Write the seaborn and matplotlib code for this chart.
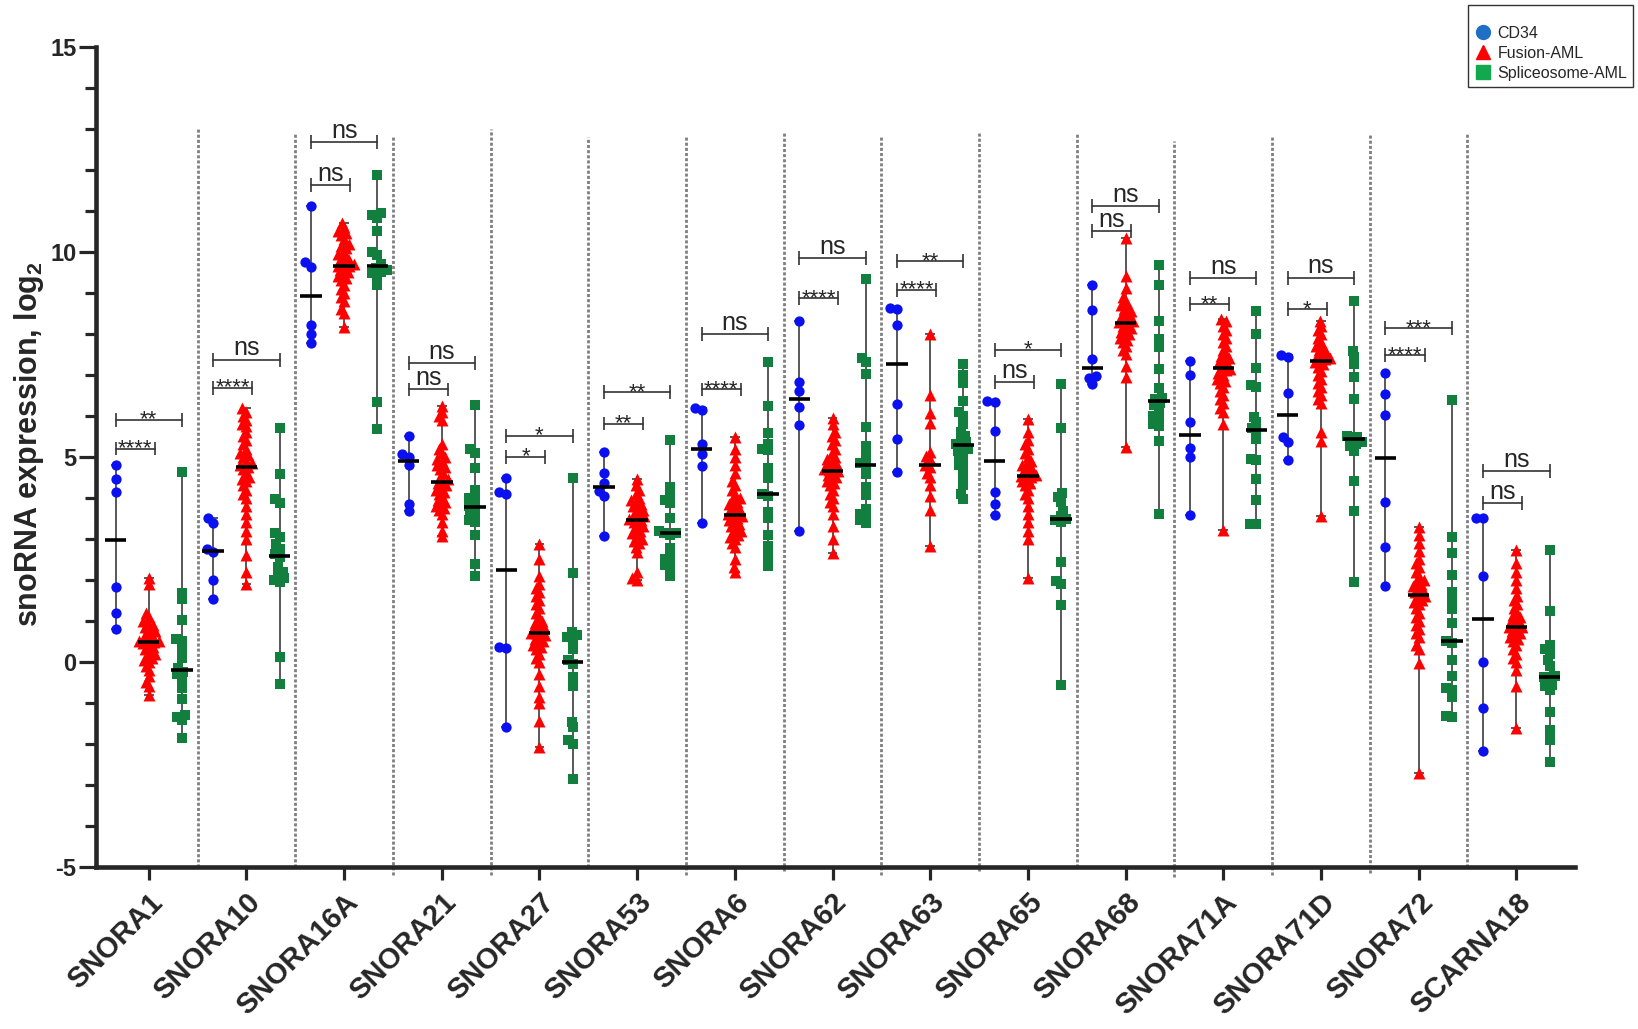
import numpy as np
import pandas as pd
import seaborn as sns
import matplotlib.pyplot as plt
from matplotlib.lines import Line2D
from matplotlib.ticker import MultipleLocator

genes = ['SNORA1', 'SNORA10', 'SNORA16A', 'SNORA21', 'SNORA27', 'SNORA53', 'SNORA6', 'SNORA62',
         'SNORA63', 'SNORA65', 'SNORA68', 'SNORA71A', 'SNORA71D', 'SNORA72', 'SCARNA18']
groups = ['CD34', 'Fusion-AML', 'Spliceosome-AML']

# log2 expression, one list per gene (same order as genes)
cd34 = [
    [4.8, 4.45, 4.13, 1.83, 1.2, 0.81],
    [3.5, 3.39, 2.75, 2.67, 1.99, 1.53],
    [11.11, 9.74, 9.63, 8.21, 7.99, 7.77],
    [5.51, 5.07, 5.0, 4.81, 3.85, 3.68],
    [4.49, 4.13, 4.1, 0.37, 0.34, -1.59],
    [5.12, 4.61, 4.37, 4.17, 4.05, 3.07],
    [6.19, 6.15, 5.32, 5.07, 4.77, 3.39],
    [8.3, 6.83, 6.61, 6.21, 5.77, 3.2],
    [8.63, 8.6, 8.22, 6.29, 5.44, 4.62],
    [6.36, 6.34, 5.62, 4.15, 3.85, 3.58],
    [9.18, 8.59, 7.39, 6.96, 6.92, 6.77],
    [7.34, 6.99, 5.85, 5.21, 4.99, 3.59],
    [7.48, 7.43, 6.55, 5.49, 5.36, 4.91],
    [7.03, 6.52, 6.02, 3.9, 2.81, 1.85],
    [3.5, 3.5, 2.1, 0.0, -1.12, -2.17],
]

fusion = [
    [2.03, 1.9, 1.2, 1.1, 1.0, 0.95, 0.9, 0.85, 0.8, 0.75, 0.7, 0.65, 0.6, 0.55, 0.5, 0.5, 0.47,
     0.45, 0.4, 0.35, 0.3, 0.25, 0.2, 0.15, 0.1, 0.05, 0.0, -0.1, -0.2, -0.35, -0.5, -0.6, -0.81],
    [6.18, 6.1, 6.0, 5.9, 5.8, 5.75, 5.6, 5.5, 5.4, 5.3, 5.2, 5.1, 5.05, 5.0, 4.9, 4.85, 4.8, 4.76,
     4.7, 4.6, 4.5, 4.45, 4.4, 4.3, 4.2, 4.1, 4.0, 3.8, 3.6, 3.4, 3.2, 3.0, 2.6, 2.2, 1.9],
    [10.71, 10.6, 10.5, 10.45, 10.4, 10.3, 10.2, 10.15, 10.1, 10.0, 9.95, 9.9, 9.85, 9.8, 9.75, 9.7,
     9.66, 9.66, 9.6, 9.55, 9.5, 9.45, 9.4, 9.35, 9.3, 9.2, 9.1, 9.0, 8.9, 8.8, 8.6, 8.5, 8.17],
    [6.24, 6.1, 6.0, 5.9, 5.3, 5.2, 5.1, 5.0, 4.95, 4.9, 4.8, 4.75, 4.7, 4.6, 4.5, 4.45, 4.4, 4.35,
     4.3, 4.25, 4.2, 4.15, 4.1, 4.0, 3.95, 3.9, 3.85, 3.8, 3.75, 3.7, 3.6, 3.4, 3.2, 3.07],
    [2.86, 2.5, 2.1, 1.9, 1.8, 1.7, 1.6, 1.5, 1.4, 1.3, 1.2, 1.1, 1.0, 0.95, 0.9, 0.85, 0.8, 0.75,
     0.7, 0.69, 0.65, 0.6, 0.55, 0.5, 0.45, 0.4, 0.35, 0.3, 0.2, 0.1, 0.0, -0.3, -0.6, -0.85, -1.0,
     -1.44, -2.07],
    [4.45, 4.3, 4.2, 4.1, 4.0, 3.95, 3.9, 3.85, 3.8, 3.75, 3.7, 3.65, 3.6, 3.55, 3.5, 3.47, 3.45,
     3.4, 3.35, 3.3, 3.25, 3.2, 3.15, 3.1, 3.0, 2.95, 2.9, 2.8, 2.68, 2.2, 2.05, 2.0],
    [5.47, 5.2, 5.0, 4.8, 4.6, 4.4, 4.3, 4.2, 4.1, 4.0, 3.95, 3.9, 3.85, 3.8, 3.75, 3.7, 3.65, 3.6,
     3.55, 3.55, 3.5, 3.45, 3.4, 3.35, 3.3, 3.25, 3.2, 3.15, 3.1, 3.05, 3.0, 2.9, 2.8, 2.5, 2.3, 2.18],
    [5.94, 5.8, 5.6, 5.5, 5.4, 5.3, 5.2, 5.1, 5.0, 4.95, 4.9, 4.85, 4.8, 4.75, 4.7, 4.68, 4.65, 4.6,
     4.55, 4.5, 4.45, 4.4, 4.35, 4.3, 4.2, 4.1, 4.0, 3.9, 3.8, 3.6, 3.3, 3.0, 2.66],
    [8.0, 6.51, 6.06, 5.82, 5.12, 5.02, 4.95, 4.79, 4.75, 4.6, 4.5, 4.3, 4.05, 3.7, 2.83],
    [5.92, 5.6, 5.4, 5.3, 5.2, 5.1, 5.0, 4.9, 4.85, 4.8, 4.75, 4.7, 4.65, 4.6, 4.55, 4.52, 4.5,
     4.45, 4.4, 4.35, 4.3, 4.2, 4.1, 4.0, 3.8, 3.6, 3.4, 3.2, 3.0, 2.03],
    [10.33, 9.4, 9.11, 8.9, 8.8, 8.7, 8.65, 8.6, 8.55, 8.5, 8.45, 8.4, 8.35, 8.3, 8.28, 8.25, 8.2,
     8.15, 8.1, 8.05, 8.0, 7.95, 7.9, 7.85, 7.8, 7.7, 7.6, 7.5, 7.22, 6.95, 5.23],
    [8.37, 8.3, 8.2, 8.1, 8.0, 7.9, 7.8, 7.7, 7.6, 7.5, 7.45, 7.4, 7.35, 7.3, 7.25, 7.2, 7.15, 7.11,
     7.05, 7.0, 6.9, 6.85, 6.8, 6.7, 6.6, 6.5, 6.4, 6.3, 6.2, 6.1, 5.8, 3.21],
    [8.32, 8.2, 8.1, 8.0, 7.9, 7.8, 7.7, 7.65, 7.6, 7.55, 7.5, 7.45, 7.4, 7.39, 7.35, 7.3, 7.25,
     7.2, 7.1, 7.0, 6.9, 6.8, 6.7, 6.6, 6.5, 6.4, 6.3, 5.6, 5.38, 3.56],
    [3.28, 3.1, 2.9, 2.7, 2.5, 2.4, 2.3, 2.2, 2.1, 2.0, 1.95, 1.9, 1.85, 1.8, 1.75, 1.7, 1.65, 1.6,
     1.55, 1.5, 1.45, 1.4, 1.3, 1.2, 1.1, 1.0, 0.9, 0.8, 0.7, 0.6, 0.4, 0.3, -0.04, -2.72],
    [2.72, 2.4, 2.2, 2.0, 1.8, 1.6, 1.5, 1.4, 1.3, 1.2, 1.15, 1.1, 1.05, 1.0, 0.95, 0.9, 0.85,
     0.84, 0.8, 0.75, 0.7, 0.65, 0.6, 0.55, 0.5, 0.4, 0.3, 0.2, 0.1, 0.0, -0.2, -0.6, -1.62],
]

splice = [
    [4.63, 1.67, 1.52, 1.02, 0.55, 0.5, 0.3, 0.1, -0.16, -0.25, -0.3, -0.39, -0.65, -0.92, -1.3,
     -1.35, -1.42, -1.85],
    [5.69, 4.57, 3.98, 3.88, 3.15, 3.05, 2.87, 2.75, 2.63, 2.55, 2.3, 2.2, 2.1, 2.05, 2.0, 1.95,
     0.11, -0.54],
    [11.87, 10.94, 10.9, 10.82, 10.51, 10.0, 9.92, 9.7, 9.6, 9.55, 9.51, 9.47, 9.4, 9.19, 6.34, 5.67],
    [6.25, 5.18, 5.1, 4.73, 4.19, 4.0, 3.94, 3.8, 3.74, 3.62, 3.55, 3.46, 3.4, 3.09, 2.38, 2.09],
    [4.49, 2.17, 0.72, 0.64, 0.6, 0.55, 0.3, 0.05, -0.05, -0.37, -0.6, -1.46, -1.6, -1.91, -2.0, -2.86],
    [5.42, 4.27, 4.07, 3.95, 3.87, 3.5, 3.2, 3.15, 3.13, 3.1, 2.78, 2.6, 2.5, 2.43, 2.35, 2.28, 2.08],
    [7.31, 6.23, 5.59, 5.32, 5.2, 5.17, 4.72, 4.47, 4.1, 4.05, 3.65, 3.5, 3.1, 2.83, 2.66, 2.5, 2.33],
    [9.33, 7.41, 7.3, 7.01, 5.72, 5.27, 5.02, 4.85, 4.79, 4.57, 4.27, 4.07, 3.72, 3.6, 3.57, 3.45, 3.38],
    [7.26, 7.0, 6.8, 6.36, 6.1, 6.0, 5.8, 5.6, 5.5, 5.4, 5.35, 5.3, 5.25, 5.2, 5.15, 5.1, 5.0, 4.9,
     4.8, 4.7, 4.5, 4.3, 4.1, 3.97],
    [6.78, 5.69, 4.12, 4.02, 3.9, 3.68, 3.55, 3.48, 3.45, 3.4, 2.43, 1.98, 1.9, 1.39, -0.56],
    [9.68, 9.18, 8.31, 7.87, 7.67, 7.13, 6.68, 6.44, 6.4, 6.31, 6.25, 6.17, 6.0, 5.96, 5.8, 5.74,
     5.39, 3.6],
    [8.55, 7.99, 7.17, 6.75, 6.71, 5.98, 5.85, 5.7, 5.61, 5.43, 4.95, 4.91, 4.46, 3.95, 3.37, 3.35],
    [8.79, 7.57, 7.43, 7.25, 6.94, 6.42, 5.5, 5.47, 5.4, 5.35, 5.3, 5.25, 5.14, 4.42, 3.68, 1.94],
    [6.38, 3.03, 2.66, 2.11, 1.71, 1.46, 1.28, 0.94, 0.5, 0.45, 0.03, -0.36, -0.65, -0.7, -0.85,
     -1.32, -1.35],
    [2.72, 1.24, 0.41, 0.3, 0.2, 0.04, -0.1, -0.35, -0.37, -0.4, -0.57, -0.6, -0.7, -1.22, -1.67,
     -1.91, -2.44],
]

# significance: lower bracket = CD34 vs Fusion, upper bracket = CD34 vs Spliceosome
low_y = [5.2, 6.68, 11.63, 6.64, 5.0, 5.81, 6.64, 8.87, 9.07, 6.83, 10.5, 8.72, 8.6, 7.48, 3.88]
low_lbl = ['****', '****', 'ns', 'ns', '*', '**', '****', '****', '****', 'ns', 'ns', '**', '*', '****', 'ns']
high_y = [5.9, 7.37, 12.68, 7.28, 5.51, 6.57, 8.0, 9.85, 9.77, 7.61, 11.11, 9.35, 9.37, 8.13, 4.66]
high_lbl = ['**', 'ns', 'ns', 'ns', '*', '**', 'ns', 'ns', '**', '*', 'ns', 'ns', 'ns', '***', 'ns']

# dotted separators between genes
sep_top = [13.0, 12.9, 12.8, 13.0, 12.8, 12.85, 12.95, 12.8, 12.9, 12.9, 12.7, 12.8, 12.85, 12.9]
sep_bottom = [-5.0, -5.0, -5.2, -5.2, -5.0, -5.2, -5.1, -5.2, -5.1, -5.0, -5.25, -5.2, -5.15, -5.0]

sns.set_style('ticks')
plt.rcParams['font.family'] = ['Liberation Sans', 'DejaVu Sans']
plt.rcParams['mathtext.fontset'] = 'custom'
plt.rcParams['mathtext.rm'] = 'Liberation Sans:bold'
plt.rcParams['mathtext.bf'] = 'Liberation Sans:bold'
plt.rcParams['mathtext.default'] = 'rm'
plt.rcParams['axes.unicode_minus'] = False

offsets = [-0.34, 0.0, 0.34]
markers = ['o', '^', 's']
colors = ['#0a10f0', '#ff0000', '#137f3e']
sizes = [7.4, 8.6, 7.2]       # marker size shown
swarm_sizes = [5.0, 3.6, 4.2]  # tighter size used only for the swarm layout (lets points overlap)
all_vals = [cd34, fusion, splice]

rows = []
for gi, gene in enumerate(genes):
    for k in range(3):
        for v in all_vals[k][gi]:
            rows.append({'gene': gene, 'group': groups[k], 'pos': gi + offsets[k], 'value': v})
df = pd.DataFrame(rows)

fig = plt.figure(figsize=(16.38, 10.29), dpi=100)
ax = fig.add_axes([0.0586, 0.1577, 0.9029, 0.7969])

coll_groups = []
for k, g in enumerate(groups):
    sub = df[df['group'] == g]
    n0 = len(ax.collections)
    sns.swarmplot(data=sub, x='pos', y='value', native_scale=True, orient='x',
                  marker=markers[k], color=colors[k], size=swarm_sizes[k], linewidth=0,
                  ax=ax, zorder=3, warn_thresh=1)
    coll_groups.append(ax.collections[n0:])

# range lines (min-max) and medians
for k in range(3):
    for gi, vals in enumerate(all_vals[k]):
        x = gi + offsets[k]
        lo, hi, med = min(vals), max(vals), np.median(vals)
        ax.vlines(x, lo, hi, color='#3c3c3c', lw=1.2, zorder=2)
        ax.hlines([lo, hi], x - 0.05, x + 0.05, color='#3c3c3c', lw=1.2, zorder=2)
        ax.hlines(med, x - 0.11, x + 0.11, color='black', lw=2.6, zorder=4)

# significance brackets
for gi in range(len(genes)):
    x0 = gi + offsets[0]
    for y, lbl, x1 in [(low_y[gi], low_lbl[gi], gi + 0.06), (high_y[gi], high_lbl[gi], gi + offsets[2])]:
        ax.plot([x0, x1], [y, y], color='#333333', lw=1.2, zorder=2)
        ax.vlines([x0, x1], y - 0.17, y + 0.17, color='#333333', lw=1.2, zorder=2)
        if lbl == 'ns':
            ax.text((x0 + x1) / 2, y + 0.1, lbl, fontsize=18, ha='center', va='baseline')
        else:
            ax.text((x0 + x1) / 2, y - 0.14, lbl, fontsize=16, ha='center', va='baseline')

for i in range(len(genes) - 1):
    ax.plot([i + 0.5, i + 0.5], [sep_bottom[i], sep_top[i]], ls=(0, (1.1, 0.75)),
            color='#7f7f7f', lw=2.0, clip_on=False, zorder=1)

ax.set_xlim(-0.54, 14.6)
ax.set_ylim(-5, 15)
ax.set_yticks([-5, 0, 5, 10, 15])
ax.yaxis.set_minor_locator(MultipleLocator(1))
ax.set_xticks(range(len(genes)))
ax.set_xticklabels(genes, rotation=45, ha='right', rotation_mode='anchor',
                   fontweight='bold', fontsize=21)
ax.tick_params(axis='y', which='major', length=12, width=2.3, labelsize=17, pad=2)
ax.tick_params(axis='y', which='minor', length=8, width=2.3)
ax.tick_params(axis='x', length=9.5, width=2.3, pad=6)
plt.setp(ax.get_yticklabels(), fontweight='bold')
ax.set_xlabel('')
ax.set_ylabel('snoRNA expression, log$_2$', fontsize=22, fontweight='bold')
ax.yaxis.set_label_coords(-0.034, 0.515)
sns.despine(ax=ax)
ax.spines['left'].set_linewidth(3.3)
ax.spines['bottom'].set_linewidth(3.3)

handles = [Line2D([], [], ls='none', marker='o', color='#1f6fc5', markersize=10),
           Line2D([], [], ls='none', marker='^', color='#ff0000', markersize=10),
           Line2D([], [], ls='none', marker='s', color='#12a84e', markersize=10)]
fig.legend(handles, groups, loc='upper right', bbox_to_anchor=(0.997, 0.995), borderaxespad=0,
           frameon=True, fancybox=False, edgecolor='black', fontsize=11.5, handletextpad=0.3,
           borderpad=0.35, labelspacing=0.32, title=' ', title_fontsize=8, handlelength=1.2)

# lay the swarms out with the tight size, then freeze positions and enlarge markers
fig.canvas.draw()
for k, colls in enumerate(coll_groups):
    for c in colls:
        if 'draw' in c.__dict__:
            del c.draw
        c.set_sizes([sizes[k] ** 2])

fig.savefig('out.png', dpi=100)
